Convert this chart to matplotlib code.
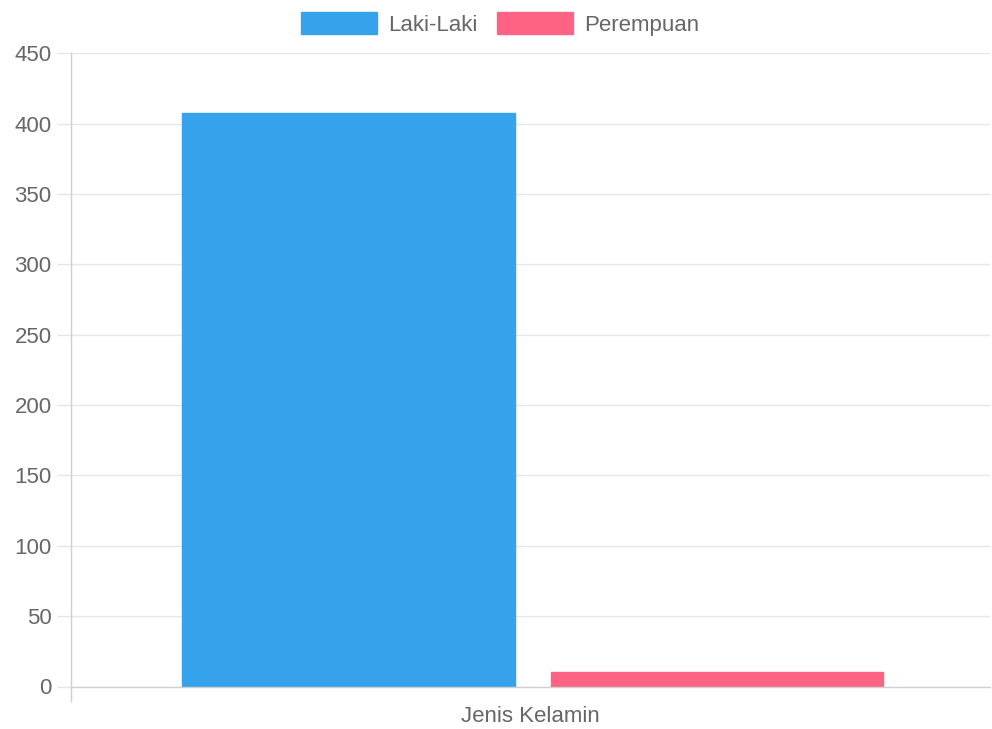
import matplotlib.pyplot as plt
from matplotlib.patches import Patch

# data
categories = ['Jenis Kelamin']
series_names = ['Laki-Laki', 'Perempuan']
laki_laki = [408]
perempuan = [10]
series_colors = ['#36A2EB', '#FF6384']

plt.rcParams['font.family'] = ['Liberation Sans', 'DejaVu Sans']

fig = plt.figure(figsize=(9.92, 7.29), dpi=100)
ax = fig.add_axes([71/992, 1-686.5/729, (990-71)/992, (686.5-53.5)/729])

xx = list(range(len(categories)))
width = 0.362
for offset, vals, color in zip([-0.198, 0.203], [laki_laki, perempuan], series_colors):
	ax.bar([x + offset for x in xx], vals, width=width, color=color, edgecolor=color, linewidth=1)

ax.set_xlim(-0.5, len(categories) - 0.5)
ax.set_ylim(0, 450)
ax.set_yticks(range(0, 451, 50))
ax.grid(axis='y', color='#e6e6e6', linewidth=1)
ax.set_axisbelow(True)

for side in ['top', 'right']:
	ax.spines[side].set_visible(False)
for side in ['left', 'bottom']:
	ax.spines[side].set_color('#d0d0d0')
	ax.spines[side].set_linewidth(1)

ax.set_xticks(xx)
ax.set_xticklabels(categories)
ax.set_xticks([-0.5], minor=True)
ax.tick_params(axis='x', which='major', length=0, pad=14, labelsize=16, labelcolor='#666666')
ax.tick_params(axis='x', which='minor', length=11, color='#d0d0d0', width=1)
ax.tick_params(axis='y', length=10, color='#e6e6e6', width=1, pad=4, labelsize=16, labelcolor='#666666')

handles = [Patch(facecolor=c, edgecolor=c) for c in series_colors]
fig.legend(handles, series_names, loc='center', bbox_to_anchor=(500/992, 1-24/729), ncol=2,
	frameon=False, fontsize=16, labelcolor='#666666', handlelength=3.4, handleheight=1.1,
	handletextpad=0.5, columnspacing=0.9, borderaxespad=0)

fig.savefig('out.png', dpi=100)
